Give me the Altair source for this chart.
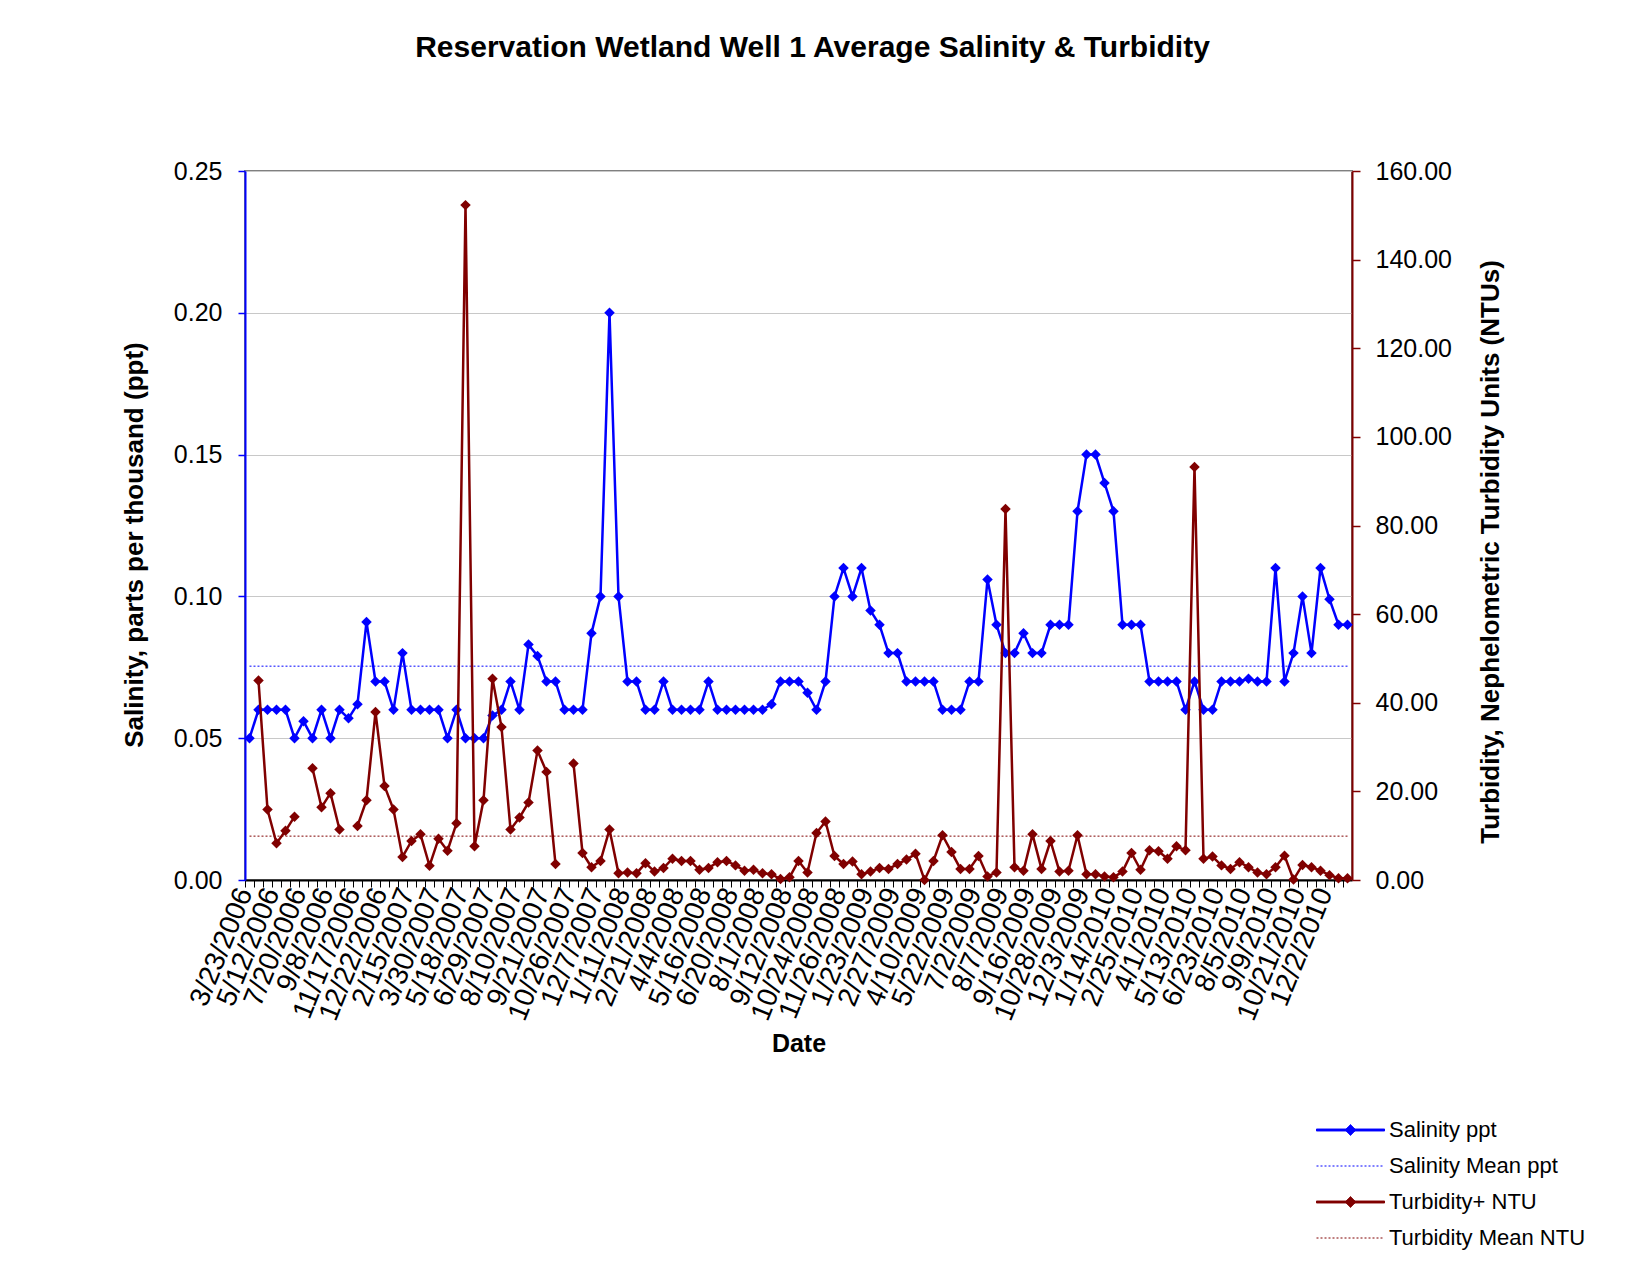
import altair as alt
import pandas as pd

# ---------------- data ----------------
date_labels = ['3/23/2006', '5/12/2006', '7/20/2006', '9/8/2006', '11/17/2006', '12/22/2006',
               '2/15/2007', '3/30/2007', '5/18/2007', '6/29/2007', '8/10/2007', '9/21/2007',
               '10/26/2007', '12/7/2007', '1/11/2008', '2/21/2008', '4/4/2008', '5/16/2008',
               '6/20/2008', '8/1/2008', '9/12/2008', '10/24/2008', '11/26/2008', '1/23/2009',
               '2/27/2009', '4/10/2009', '5/22/2009', '7/2/2009', '8/7/2009', '9/16/2009',
               '10/28/2009', '12/3/2009', '1/14/2010', '2/25/2010', '4/1/2010', '5/13/2010',
               '6/23/2010', '8/5/2010', '9/9/2010', '10/21/2010', '12/2/2010']

salinity = [
    0.05, 0.06, 0.06, 0.06, 0.06, 0.05, 0.056, 0.05, 0.06, 0.05,
    0.06, 0.057, 0.062, 0.091, 0.07, 0.07, 0.06, 0.08, 0.06, 0.06,
    0.06, 0.06, 0.05, 0.06, 0.05, 0.05, 0.05, 0.058, 0.06, 0.07,
    0.06, 0.083, 0.079, 0.07, 0.07, 0.06, 0.06, 0.06, 0.087, 0.10,
    0.20, 0.10, 0.07, 0.07, 0.06, 0.06, 0.07, 0.06, 0.06, 0.06,
    0.06, 0.07, 0.06, 0.06, 0.06, 0.06, 0.06, 0.06, 0.062, 0.07,
    0.07, 0.07, 0.066, 0.06, 0.07, 0.10, 0.11, 0.10, 0.11, 0.095,
    0.09, 0.08, 0.08, 0.07, 0.07, 0.07, 0.07, 0.06, 0.06, 0.06,
    0.07, 0.07, 0.106, 0.09, 0.08, 0.08, 0.087, 0.08, 0.08, 0.09,
    0.09, 0.09, 0.13, 0.15, 0.15, 0.14, 0.13, 0.09, 0.09, 0.09,
    0.07, 0.07, 0.07, 0.07, 0.06, 0.07, 0.06, 0.06, 0.07, 0.07,
    0.07, 0.071, 0.07, 0.07, 0.11, 0.07, 0.08, 0.10, 0.08, 0.11,
    0.099, 0.09, 0.09]

turbidity = [
    None, 45.0, 15.9, 8.3, 11.1, 14.3, None, 25.2, 16.4, 19.6,
    11.4, None, 12.2, 18.0, 37.9, 21.2, 15.9, 5.2, 8.8, 10.3,
    3.2, 9.3, 6.6, 12.8, 152.3, 7.6, 18.0, 45.4, 34.5, 11.4,
    14.1, 17.5, 29.2, 24.4, 3.6, None, 26.3, 6.1, 2.9, 4.3,
    11.4, 1.5, 1.7, 1.5, 3.8, 1.9, 2.7, 4.8, 4.3, 4.3,
    2.3, 2.7, 4.0, 4.3, 3.3, 2.1, 2.3, 1.5, 1.3, 0.2,
    0.6, 4.3, 1.7, 10.6, 13.2, 5.4, 3.6, 4.2, 1.3, 1.9,
    2.7, 2.5, 3.6, 4.6, 5.9, 0.0, 4.3, 10.1, 6.3, 2.5,
    2.5, 5.4, 0.8, 1.7, 83.7, 2.9, 2.1, 10.3, 2.5, 8.8,
    1.9, 2.1, 10.1, 1.3, 1.3, 0.8, 0.6, 1.9, 6.1, 2.3,
    6.7, 6.5, 4.8, 7.6, 6.7, 93.2, 4.8, 5.3, 3.3, 2.5,
    4.0, 2.9, 1.7, 1.3, 2.9, 5.5, 0.1, 3.4, 2.9, 2.1,
    1.1, 0.4, 0.4]

salinity_mean = [0.0754]
turbidity_mean = [9.9]

series_names = ['Salinity ppt', 'Salinity Mean ppt', 'Turbidity+ NTU', 'Turbidity Mean NTU']
sal_ticks = [0.0, 0.05, 0.10, 0.15, 0.20, 0.25]
turb_ticks = [0, 20, 40, 60, 80, 100, 120, 140, 160]

# ---------------- styling ----------------
BLUE = '#0000FF'
RED = '#800000'
FONT = 'Liberation Sans'
W, H = 1107, 709
n = len(salinity)
band = W / n

df = pd.DataFrame({'idx': list(range(1, n + 1)), 'salinity': salinity, 'turbidity': turbidity})
sal_mean_df = pd.DataFrame({'m': salinity_mean})
turb_mean_df = pd.DataFrame({'m': turbidity_mean})

arr = '[' + ','.join("'" + s + "'" for s in date_labels) + ']'
label_expr = f"(datum.value - 1) % 3 == 0 ? {arr}[(datum.value - 1) / 3] : ''"

xscale = alt.Scale(domain=[0.5, n + 0.5], nice=False, zero=False)
xaxis = alt.Axis(values=list(range(1, n + 1)), tickCount=1000, tickOffset=-band / 2,
                 labelExpr=label_expr, labelAngle=292, labelAlign='right',
                 labelBaseline='middle', labelFontSize=28, labelOverlap=False, labelFlush=False,
                 labelPadding=2, labelLimit=400, title='Date', titleFontSize=25,
                 titleFontWeight='bold', titlePadding=7, domainColor='black', domainWidth=2,
                 tickColor='black', tickSize=7, tickWidth=1, grid=False)

sal_scale = alt.Scale(domain=[0, 0.25], nice=False, zero=True)
turb_scale = alt.Scale(domain=[0, 160], nice=False, zero=True)

sal_axis = alt.Axis(orient='left', values=sal_ticks, format='.2f', labelFontSize=25,
                    labelPadding=16, tickSize=7, tickColor=BLUE, tickWidth=1.5, domainColor=BLUE,
                    domainWidth=2, grid=True, gridColor='#c8c8c8', gridWidth=1.2,
                    title='Salinity, parts per thousand (ppt)', titleFontSize=26,
                    titleFontWeight='bold', titlePadding=26, titleY=H / 2 + 19)
turb_axis = alt.Axis(orient='right', values=turb_ticks, format='.2f', labelFontSize=25,
                     labelPadding=15, tickSize=8, tickColor=RED, tickWidth=1.5, domainColor=RED,
                     domainWidth=2, grid=False,
                     title='Turbidity, Nephelometric Turbidity Units (NTUs)', titleFontSize=26,
                     titleFontWeight='bold', titlePadding=52, titleAngle=270, titleY=H / 2 + 26)

base = alt.Chart(df)
sal_line = base.mark_line(
    color=BLUE, strokeWidth=2.5, invalid='break-paths-show-domains',
    point=alt.OverlayMarkDef(shape='diamond', filled=True, size=110, color=BLUE)
).encode(x=alt.X('idx:Q', scale=xscale, axis=xaxis),
         y=alt.Y('salinity:Q', scale=sal_scale, axis=sal_axis))

sal_mean = alt.Chart(sal_mean_df).mark_rule(color=BLUE, strokeWidth=1, strokeDash=[2, 2]).encode(
    x=alt.datum(1), x2=alt.datum(n), y=alt.Y('m:Q', scale=sal_scale, axis=sal_axis))

turb_line = base.mark_line(
    color=RED, strokeWidth=2.5, invalid='break-paths-show-domains',
    point=alt.OverlayMarkDef(shape='diamond', filled=True, size=110, color=RED)
).encode(x=alt.X('idx:Q', scale=xscale, axis=xaxis),
         y=alt.Y('turbidity:Q', scale=turb_scale, axis=turb_axis))

turb_mean = alt.Chart(turb_mean_df).mark_rule(color=RED, strokeWidth=1, strokeDash=[2, 2]).encode(
    x=alt.datum(1), x2=alt.datum(n), y=alt.Y('m:Q', scale=turb_scale, axis=turb_axis))

# legend (native Vega-Lite legend, no visible marks from this layer)
data_path = 'M-1,-0.03H1V0.03H-1Z M0,-0.16L0.16,0L0,0.16L-0.16,0Z'
mean_path = 'M-1,0H1'
leg = alt.Legend(title=None, orient='none', legendX=1071, legendY=948, symbolSize=4624,
                 symbolStrokeWidth=1, labelFontSize=22, labelFont=FONT, labelColor='black',
                 labelOffset=4, labelLimit=400, rowPadding=14, clipHeight=22, padding=0,
                 symbolOpacity=1)
leg_df = pd.DataFrame({'series': series_names})
legend_layer = alt.Chart(leg_df).transform_filter('false').mark_point(filled=True).encode(
    fill=alt.Fill('series:N', scale=alt.Scale(domain=series_names, range=[BLUE, BLUE, RED, RED]), legend=leg),
    stroke=alt.Stroke('series:N', scale=alt.Scale(domain=series_names, range=[BLUE, BLUE, RED, RED]), legend=leg),
    shape=alt.Shape('series:N', scale=alt.Scale(domain=series_names, range=[data_path, mean_path, data_path, mean_path]), legend=leg),
    strokeDash=alt.StrokeDash('series:N', scale=alt.Scale(domain=series_names, range=[[1, 0], [2, 2], [1, 0], [2, 2]]), legend=leg),
)

sal_group = alt.layer(sal_mean, sal_line)
turb_group = alt.layer(turb_mean, turb_line)

chart = alt.layer(sal_group, turb_group, legend_layer).resolve_scale(
    y='independent'
).properties(
    width=W, height=H,
    title=alt.TitleParams('Reservation Wetland Well 1 Average Salinity & Turbidity', fontSize=30,
                          font=FONT, fontWeight='bold', color='black', anchor='middle',
                          offset=96, dx=14),
    autosize=alt.AutoSizeParams(type='none'),
    padding={'left': 237, 'top': 163, 'right': 270, 'bottom': 390}
).configure(font=FONT).configure_axis(
    labelFont=FONT, titleFont=FONT, labelColor='black', titleColor='black'
).configure_view(stroke='#808080', strokeWidth=2)

chart.save('out.html', embed_options={'renderer': 'svg', 'actions': False})
